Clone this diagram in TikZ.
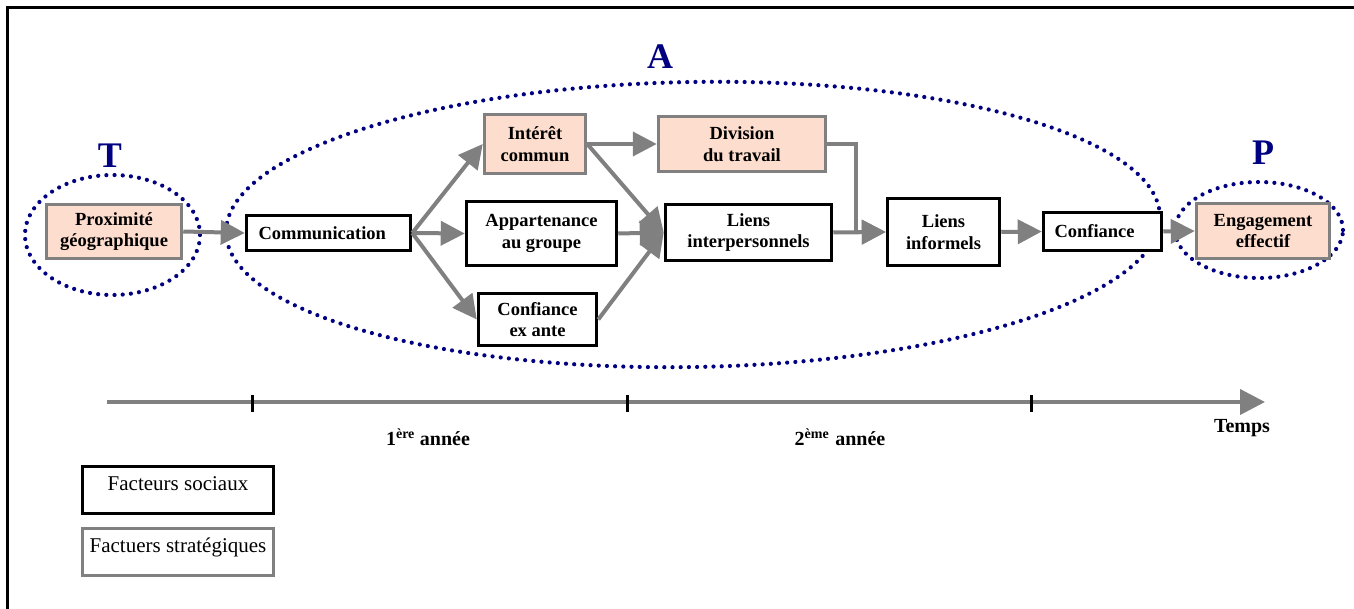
\documentclass[tikz,border=0pt]{standalone}
\usepackage{fontspec}
\setmainfont{Liberation Serif}
\usetikzlibrary{arrows.meta}
\definecolor{peach}{RGB}{253,221,205}
\definecolor{navy}{RGB}{0,0,128}
\definecolor{arrgray}{RGB}{128,128,128}
\tikzset{
  box/.style={rectangle, inner sep=0pt, align=center, font=\bfseries\fontsize{18.5}{21.5}\selectfont},
  socialbox/.style={box, draw=black, line width=3.5pt, fill=white},
  stratbox/.style={box, draw=arrgray, line width=3.5pt, fill=peach},
  flow/.style={draw=arrgray, line width=4pt, -{Triangle[length=24pt,width=24pt]}},
  zone/.style={draw=navy, line width=4.2pt, line cap=round, dash pattern=on 0pt off 8.2pt},
  zonelabel/.style={text=navy, font=\bfseries\fontsize{36}{40}\selectfont},
  legendbox/.style={rectangle, line width=3.5pt, inner sep=0pt, minimum width=191pt, minimum height=47pt, text height=14pt, text depth=13pt, font=\fontsize{21}{24}\selectfont},
  axislabel/.style={font=\bfseries\fontsize{20}{22}\selectfont},
}
\begin{document}
\begin{tikzpicture}[x=1pt,y=1pt]
\useasboundingbox (0,0) rectangle (1354,-609);
% frame
\draw[line width=3.5pt] (7.5,-615) -- (7.5,-7.5) -- (1360,-7.5);

% zones
\draw[zone] (112.5,-235) ellipse [x radius=87.5, y radius=60];
\draw[zone, rotate around={1:(693,-224.5)}] (693,-224.5) ellipse [x radius=467, y radius=142.5];
\draw[zone] (1259,-230) ellipse [x radius=84, y radius=48];
\node[zonelabel] (T) at (110,-156) {T};
\node[zonelabel] (A) at (660,-57) {A};
\node[zonelabel] (P) at (1263,-153) {P};

% nodes
\node[stratbox, minimum width=135pt, minimum height=54pt] (prox) at (114,-231.5) {Proximité\\géographique};
\node[socialbox, minimum width=164pt, minimum height=35pt, text width=140pt, align=left] (comm) at (328.5,-233) {Communication};
\node[stratbox, minimum width=101pt, minimum height=59pt] (interet) at (535,-144) {Intérêt\\commun};
\node[stratbox, minimum width=167pt, minimum height=55pt] (division) at (742,-144) {Division\\du travail};
\node[socialbox, minimum width=150pt, minimum height=64pt] (appart) at (541.5,-233.5) {Appartenance\\au groupe};
\node[socialbox, minimum width=118pt, minimum height=52pt] (exante) at (537.5,-319.5) {Confiance\\ex ante};
\node[socialbox, minimum width=166pt, minimum height=56pt] (linter) at (748.5,-232.5) {Liens\\interpersonnels};
\node[socialbox, minimum width=112pt, minimum height=67pt] (linf) at (943.5,-232) {Liens\\informels};
\node[socialbox, minimum width=118pt, minimum height=38pt, text width=96pt, align=left] (conf) at (1102.5,-231.5) {Confiance};
\node[stratbox, minimum width=133pt, minimum height=55pt] (engage) at (1263,-231) {Engagement\\effectif};

% connectors
\draw[flow] (prox.east) -- (comm.west);
\draw[flow] (comm.east) -- (interet.west);
\draw[flow] (comm.east) -- (appart.west);
\draw[flow] (comm.east) -- (exante.west);
\draw[flow] (interet.east) -- (division.west);
\draw[flow] (interet.east) -- (linter.west);
\draw[flow] (appart.east) -- (linter.west);
\draw[flow] (exante.east) -- (linter.west);
\coordinate (elbow) at (856,-144);
\draw[flow, line width=3.5pt] (division.east) -- (elbow) |- (linf.west);
\draw[flow] (linter.east) -- (linf.west);
\draw[flow] (linf.east) -- (conf.west);
\draw[flow] (conf.east) -- (engage.west);

% time axis
\coordinate (t0) at (107,-402);
\coordinate (tend) at (1265,-402);
\draw[draw=arrgray, line width=4pt, -{Triangle[length=25pt,width=25pt]}] (t0) -- (tend);
\coordinate (k1) at (252,-395);
\coordinate (k1b) at (252,-412);
\coordinate (k2) at (627,-395);
\coordinate (k2b) at (627,-412);
\coordinate (k3) at (1031,-395);
\coordinate (k3b) at (1031,-412);
\draw[line width=3pt] (k1) -- (k1b);
\draw[line width=3pt] (k2) -- (k2b);
\draw[line width=3pt] (k3) -- (k3b);
\node[axislabel] (an1) at (428,-437) {1\textsuperscript{ère} année};
\node[axislabel] (an2) at (840,-437) {2\textsuperscript{ème}\hspace{6pt}année};
\node[axislabel] (temps) at (1242,-428) {Temps};

% legend
\node[legendbox, draw=black] (lsoc) at (178,-490) {Facteurs sociaux};
\node[legendbox, draw=arrgray] (lstrat) at (178,-552) {Factuers stratégiques};
\end{tikzpicture}
\end{document}
